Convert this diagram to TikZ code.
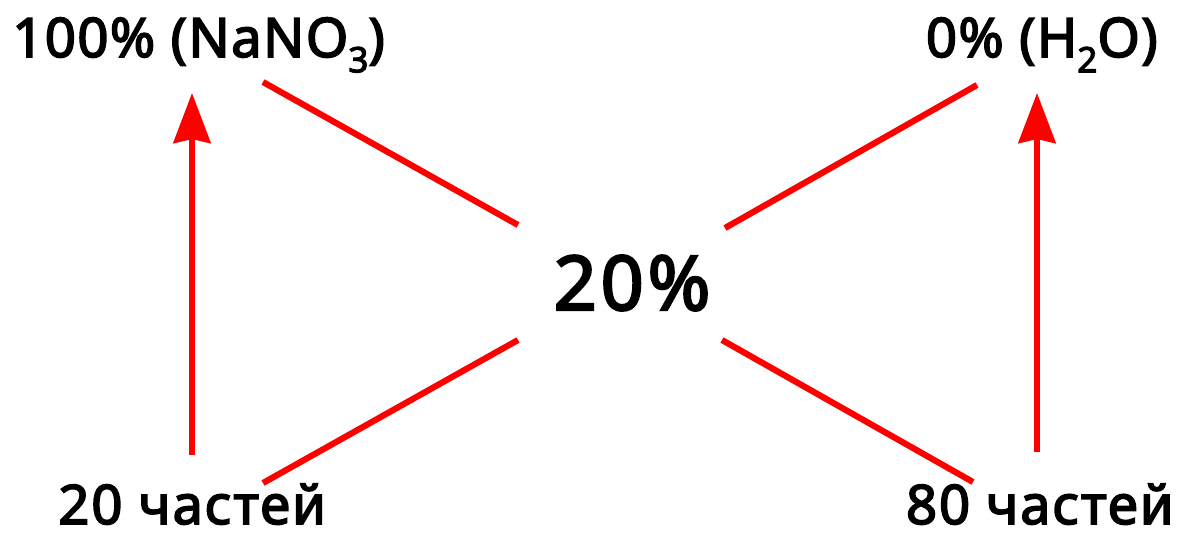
\documentclass[tikz,border=0pt]{standalone}
\usepackage{fontspec}
\setmainfont{Noto Sans}[AutoFakeBold=3]
\usepackage{xcolor}
\usepackage{tikz}
\usetikzlibrary{arrows.meta, positioning}
\definecolor{myred}{RGB}{255,0,0}
\definecolor{mydark}{RGB}{0,0,0}
\newcommand{\chemsub}[1]{\raisebox{-0.28em}{\fontsize{20}{20}\selectfont #1}}
\tikzset{
  label/.style={inner sep=0pt, font=\fontsize{31}{31}\selectfont\bfseries\addfontfeatures{LetterSpace=2.5}, text=mydark},
  bottomlabel/.style={inner sep=0pt, font=\fontsize{31}{31}\selectfont\bfseries\addfontfeatures{LetterSpace=3.5}, text=mydark},
  mixnode/.style={inner sep=0pt, font=\fontsize{43}{43}\selectfont\bfseries\addfontfeatures{LetterSpace=5}, text=mydark},
  line/.style={line width=3.5pt, color=myred},
  arrow/.style={-{Stealth[length=1cm, width=0.74cm, inset=0.08cm]}, line width=3.5pt, color=myred}
}

\begin{document}
\begin{tikzpicture}[x=0.02cm, y=-0.02cm]
  \useasboundingbox (0,0) rectangle (1182,542);

  % concentrations
  \node[label, anchor=base west] (salt) at (12,57) {100\% (NaNO\chemsub{3})};
  \node[label, anchor=base east] (water) at (1158,57) {0\% (H\chemsub{2}O)};
  \node[mixnode, anchor=base] (mix) at (632,310) {20\%};

  % parts
  \node[bottomlabel, anchor=base west] (saltparts) at (58,524) {20 частей};
  \node[bottomlabel, anchor=base east] (waterparts) at (1174,524) {80 частей};

  % line ends
  \coordinate (salt-out) at (263,82);
  \coordinate (water-out) at (977,85);
  \coordinate (saltparts-out) at (263,483);
  \coordinate (waterparts-out) at (973,482);
  \coordinate (mix-nw) at (518,225);
  \coordinate (mix-ne) at (725,228);
  \coordinate (mix-sw) at (518,340);
  \coordinate (mix-se) at (722,340);
  \coordinate (saltarrow-in) at (192,93);
  \coordinate (saltarrow-out) at (192,455);
  \coordinate (waterarrow-in) at (1037,93);
  \coordinate (waterarrow-out) at (1037,452);

  \draw[line] (salt-out) -- (mix-nw);
  \draw[line] (water-out) -- (mix-ne);
  \draw[line] (saltparts-out) -- (mix-sw);
  \draw[line] (waterparts-out) -- (mix-se);

  \draw[arrow] (saltarrow-out) -- (saltarrow-in);
  \draw[arrow] (waterarrow-out) -- (waterarrow-in);
\end{tikzpicture}
\end{document}
